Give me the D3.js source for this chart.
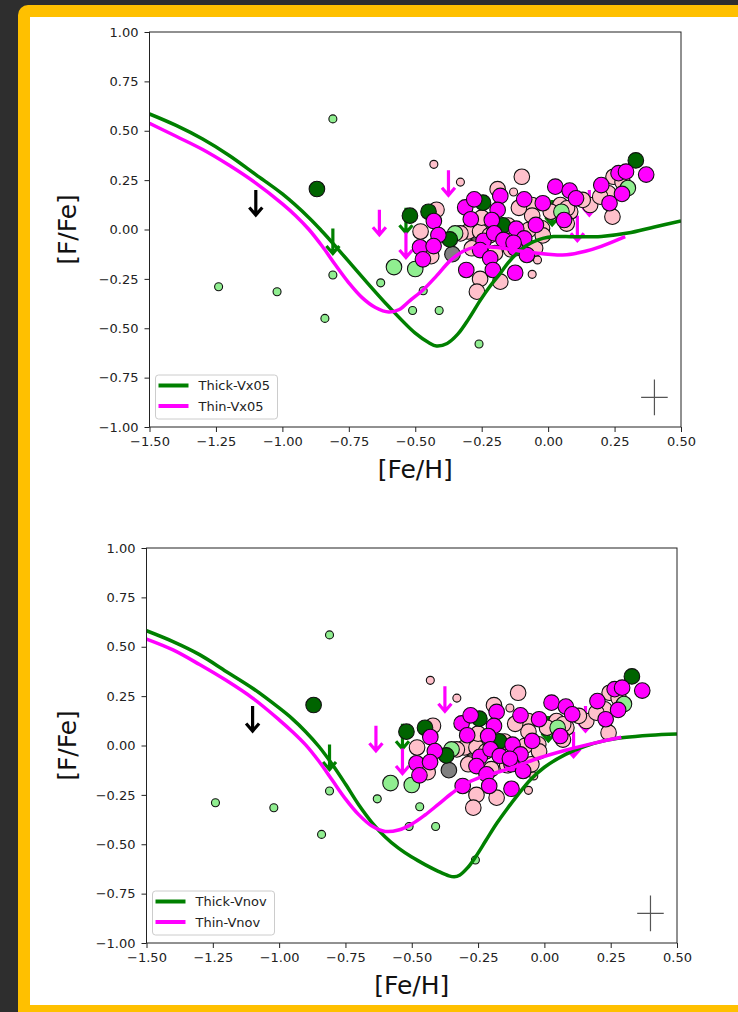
<!DOCTYPE html>
<html>
<head>
<meta charset="utf-8">
<script src="https://cdn.jsdelivr.net/npm/d3@7"></script>
<style>
  html, body { margin: 0; padding: 0; background: #2e2e2e; }
  svg { display: block; }
  text { font-family: "DejaVu Sans", sans-serif; }
</style>
</head>
<body>
<svg id="fig" width="738" height="1012"></svg>
<script>
// ---- Observed stars: [ [Fe/H], [F/Fe] ] ----
// thick-disc stars
const thickFaint  = [[-1.24,-0.29],[-1.02,-0.315],[-0.84,-0.45],[-0.81,-0.23],[-0.81,0.56],
                     [-0.63,-0.27],[-0.51,-0.41],[-0.47,-0.31],[-0.41,-0.41],[-0.26,-0.58]];
const thickLow    = [[-0.58,-0.19],[-0.50,-0.20],[-0.35,-0.02],[0.05,0.09],[0.30,0.21]];
const thickHigh   = [[-0.87,0.205],[-0.52,0.07],[-0.45,0.09],[-0.37,-0.05],[-0.245,0.136],
                     [-0.17,0.021],[0.33,0.35]];
const unclassified = [[-0.36,-0.125]];
// thin-disc stars
const thinFaint   = [[-0.43,0.33],[-0.33,0.24],[-0.13,0.19],[-0.06,-0.227],[-0.04,-0.154]];
const thinLow     = [[-0.42,0.10],[-0.48,-0.01],[-0.44,-0.135],[-0.30,-0.01],[-0.256,-0.01],
                     [-0.278,-0.087],[-0.19,0.204],[-0.099,0.267],[-0.061,0.124],[-0.074,-0.003],
                     [-0.023,0.006],[-0.049,-0.095],[-0.256,-0.25],[-0.18,-0.264],[-0.268,-0.315],
                     [0.046,0.124],[0.083,0.09],[0.158,0.124],[0.242,0.065],[0.246,0.267],
                     [0.227,0.183],[-0.287,-0.095],[0.07,0.03],[0.196,0.166],[0.071,0.107],
                     [-0.25,0.06],[-0.22,-0.03],[-0.15,0.02],[-0.14,-0.10],[-0.06,0.07],
                     [-0.33,-0.02],[-0.11,0.11],[0.01,0.09],[0.13,0.15],[0.28,0.24],
                     [-0.20,-0.12],[-0.02,-0.03]];
const thinHigh    = [[-0.43,0.043],[-0.413,-0.028],[-0.482,-0.09],[-0.431,-0.084],[-0.471,-0.151],
                     [-0.312,0.112],[-0.278,0.153],[-0.291,0.052],[-0.18,0.17],[-0.19,0.099],
                     [-0.212,0.048],[-0.243,-0.057],[-0.256,-0.104],[-0.203,-0.019],[-0.168,-0.053],
                     [-0.218,-0.146],[-0.208,-0.205],[-0.308,-0.205],[-0.09,0.153],[-0.12,0.004],
                     [-0.09,-0.045],[-0.124,-0.095],[-0.124,-0.219],[-0.02,0.133],[-0.046,0.023],
                     [-0.08,-0.129],[0.027,0.217],[0.081,0.197],[0.105,0.158],[0.06,0.048],
                     [0.20,0.225],[0.231,0.133],[0.265,0.285],[0.293,0.293],[0.369,0.278],
                     [0.278,0.18],[-0.13,-0.067]];

// ---- Upper limits: [ [Fe/H], [F/Fe] limit ] ----
const limitsOther = [[-1.10,0.20]];
const limitsThick = [[-0.81,0.005],[-0.535,0.11],[0.015,0.15]];
const limitsThin  = [[-0.635,0.10],[-0.535,-0.015],[-0.375,0.30],[0.155,0.20],[0.11,0.07]];

// ---- Chemical-evolution models: [ [Fe/H], [F/Fe] ] ----
const thickVx05 = [[-1.5,0.585],[-1.4,0.527],[-1.3,0.458],[-1.2,0.375],[-1.1,0.278],[-1.0,0.18],
                   [-0.9,0.06],[-0.85,-0.01],[-0.8,-0.085],[-0.7,-0.24],[-0.6,-0.39],[-0.5,-0.525],
                   [-0.45,-0.572],[-0.42,-0.59],[-0.38,-0.577],[-0.34,-0.53],[-0.30,-0.455],
                   [-0.256,-0.36],[-0.22,-0.29],[-0.18,-0.222],[-0.15,-0.168],[-0.117,-0.12],
                   [-0.085,-0.085],[-0.055,-0.062],[-0.02,-0.045],[0.02,-0.036],[0.1,-0.037],
                   [0.2,-0.035],[0.3,-0.018],[0.4,0.013],[0.5,0.043]];
const thinVx05  = [[-1.5,0.538],[-1.4,0.472],[-1.3,0.405],[-1.2,0.325],[-1.1,0.235],[-1.0,0.13],
                   [-0.95,0.07],[-0.9,0.0],[-0.85,-0.085],[-0.8,-0.18],[-0.75,-0.27],
                   [-0.7,-0.345],[-0.65,-0.395],[-0.6,-0.418],[-0.56,-0.405],[-0.52,-0.36],
                   [-0.47,-0.305],[-0.42,-0.235],[-0.37,-0.16],[-0.32,-0.11],[-0.27,-0.088],
                   [-0.2,-0.09],[-0.1,-0.11],[0.0,-0.125],[0.07,-0.128],[0.14,-0.11],
                   [0.2,-0.085],[0.29,-0.036]];
const thickVnov = [[-1.5,0.581],[-1.4,0.526],[-1.3,0.46],[-1.2,0.375],[-1.1,0.29],[-1.0,0.19],
                   [-0.95,0.135],[-0.9,0.07],[-0.85,-0.005],[-0.8,-0.095],[-0.75,-0.195],
                   [-0.7,-0.3],[-0.65,-0.39],[-0.6,-0.463],[-0.55,-0.52],[-0.5,-0.565],
                   [-0.45,-0.603],[-0.4,-0.637],[-0.36,-0.66],[-0.34,-0.665],[-0.32,-0.657],
                   [-0.29,-0.62],[-0.26,-0.565],[-0.22,-0.48],[-0.18,-0.395],[-0.14,-0.32],
                   [-0.1,-0.25],[-0.05,-0.17],[0.0,-0.11],[0.08,-0.045],[0.15,-0.005],
                   [0.22,0.022],[0.3,0.04],[0.4,0.052],[0.5,0.058]];
const thinVnov  = [[-1.5,0.539],[-1.4,0.484],[-1.3,0.41],[-1.2,0.33],[-1.1,0.24],[-1.0,0.13],
                   [-0.95,0.07],[-0.9,0.003],[-0.85,-0.08],[-0.8,-0.175],[-0.75,-0.27],
                   [-0.7,-0.35],[-0.65,-0.408],[-0.6,-0.435],[-0.55,-0.428],[-0.5,-0.398],
                   [-0.45,-0.352],[-0.4,-0.298],[-0.35,-0.243],[-0.3,-0.196],[-0.25,-0.165],
                   [-0.17,-0.133],[-0.1,-0.102],[-0.04,-0.072],[0.08,-0.024],[0.2,0.016],
                   [0.29,0.042]];

// typical uncertainty: [Fe/H], [F/Fe], half-widths
const typicalError = { x: 0.40, y: -0.85, dx: 0.05, dy: 0.09 };

const xTicks = [-1.5,-1.25,-1.0,-0.75,-0.5,-0.25,0.0,0.25,0.5];
const yTicks = [-1.0,-0.75,-0.5,-0.25,0.0,0.25,0.5,0.75,1.0];
const xLabel = "[Fe/H]";
const yLabel = "[F/Fe]";

// ---- page frame ----
const svg = d3.select("#fig");
svg.append("rect").attr("width", 738).attr("height", 1012).attr("fill", "#2e2e2e");
svg.append("rect").attr("x", 18).attr("y", 5).attr("width", 760).attr("height", 1040)
   .attr("rx", 10).attr("fill", "#ffc000");
svg.append("rect").attr("x", 30).attr("y", 17).attr("width", 740).attr("height", 988)
   .attr("fill", "#ffffff");

const panels = [
  { x0: 149.5, x1: 681, y0: 32, y1: 427, thick: thickVx05, thin: thinVx05,
    names: ["Thick-Vx05", "Thin-Vx05"] },
  { x0: 146.5, x1: 677, y0: 548, y1: 943, thick: thickVnov, thin: thinVnov,
    names: ["Thick-Vnov", "Thin-Vnov"] }
];

const fmt = d3.format(".2f");
const GREEN = "#008000", MAGENTA = "#ff00ff";

panels.forEach((p, i) => {
  const x = d3.scaleLinear().domain([-1.5, 0.5]).range([p.x0, p.x1]);
  const y = d3.scaleLinear().domain([-1, 1]).range([p.y1, p.y0]);
  const g = svg.append("g");

  const clipId = "clip" + i;
  g.append("clipPath").attr("id", clipId).append("rect")
    .attr("x", p.x0).attr("y", p.y0).attr("width", p.x1 - p.x0).attr("height", p.y1 - p.y0);

  // axes
  const ax = g.append("g").attr("transform", `translate(0,${p.y1})`)
    .call(d3.axisBottom(x).tickValues(xTicks).tickFormat(fmt).tickSize(5).tickPadding(5));
  const ay = g.append("g").attr("transform", `translate(${p.x0},0)`)
    .call(d3.axisLeft(y).tickValues(yTicks).tickFormat(fmt).tickSize(5).tickPadding(6));
  [ax, ay].forEach(a => {
    a.select(".domain").remove();
    a.selectAll(".tick line").attr("stroke", "#222").attr("stroke-width", 1);
    a.selectAll(".tick text").attr("fill", "#222").style("font-size", "13px")
      .style("font-family", "DejaVu Sans");
  });

  const plot = g.append("g").attr("clip-path", `url(#${clipId})`);

  // upper limits as downward arrows
  const arrowLen = 26;
  const drawLimits = (data, color) => {
    plot.selectAll(null).data(data).join("path")
      .attr("d", d => {
        const cx = x(d[0]), top = y(d[1]), tip = top + arrowLen;
        return `M${cx},${top}L${cx},${tip - 1}M${cx - 6.5},${tip - 8.5}L${cx},${tip - 1}L${cx + 6.5},${tip - 8.5}`;
      })
      .attr("fill", "none").attr("stroke", color).attr("stroke-width", 3.2)
      .attr("stroke-linejoin", "miter");
  };
  drawLimits(limitsOther, "#000000");
  drawLimits(limitsThick, GREEN);
  drawLimits(limitsThin, MAGENTA);

  // stars
  const drawStars = (data, color, r) => {
    plot.selectAll(null).data(data).join("circle")
      .attr("cx", d => x(d[0])).attr("cy", d => y(d[1])).attr("r", r)
      .attr("fill", color).attr("stroke", "#111").attr("stroke-width", 1.1);
  };
  drawStars(thinFaint, "#ffc0cb", 4);
  drawStars(thickFaint, "#90ee90", 4);
  drawStars(thinLow, "#ffc0cb", 7.8);
  drawStars(thickLow, "#90ee90", 7.8);
  drawStars(unclassified, "#808080", 7.8);
  drawStars(thickHigh, "#006400", 7.8);
  drawStars(thinHigh, "#ff00ff", 7.8);

  // model tracks
  const line = d3.line().x(d => x(d[0])).y(d => y(d[1])).curve(d3.curveCatmullRom.alpha(0.5));
  plot.append("path").datum(p.thick).attr("d", line)
    .attr("fill", "none").attr("stroke", GREEN).attr("stroke-width", 3.5);
  plot.append("path").datum(p.thin).attr("d", line)
    .attr("fill", "none").attr("stroke", MAGENTA).attr("stroke-width", 3.5);

  // typical error bar
  const e = typicalError;
  g.append("path")
    .attr("d", `M${x(e.x - e.dx)},${y(e.y)}H${x(e.x + e.dx)}M${x(e.x)},${y(e.y - e.dy)}V${y(e.y + e.dy)}`)
    .attr("stroke", "#555").attr("stroke-width", 1.2).attr("fill", "none");

  // frame
  g.append("rect").attr("x", p.x0).attr("y", p.y0)
    .attr("width", p.x1 - p.x0).attr("height", p.y1 - p.y0)
    .attr("fill", "none").attr("stroke", "#222").attr("stroke-width", 1);

  // legend
  const lg = g.append("g").attr("transform", `translate(${p.x0 + 6},${p.y1 - 52})`);
  lg.append("rect").attr("width", 122).attr("height", 44).attr("rx", 3)
    .attr("fill", "#fff").attr("fill-opacity", 0.8).attr("stroke", "#ccc");
  [[GREEN, p.names[0], 10.5], [MAGENTA, p.names[1], 31]].forEach(([c, t, yy]) => {
    lg.append("line").attr("x1", 3).attr("x2", 33).attr("y1", yy).attr("y2", yy)
      .attr("stroke", c).attr("stroke-width", 4);
    lg.append("text").attr("x", 43).attr("y", yy + 4.7).text(t)
      .attr("fill", "#222").style("font-size", "13px");
  });

  // axis titles
  g.append("text").attr("x", (p.x0 + p.x1) / 2).attr("y", p.y1 + 51)
    .attr("text-anchor", "middle").style("font-size", "25px").attr("fill", "#111").text(xLabel);
  g.append("text")
    .attr("transform", `translate(76,${(p.y0 + p.y1) / 2}) rotate(-90)`)
    .attr("text-anchor", "middle").style("font-size", "25px").attr("fill", "#111").text(yLabel);
});
</script>
</body>
</html>
